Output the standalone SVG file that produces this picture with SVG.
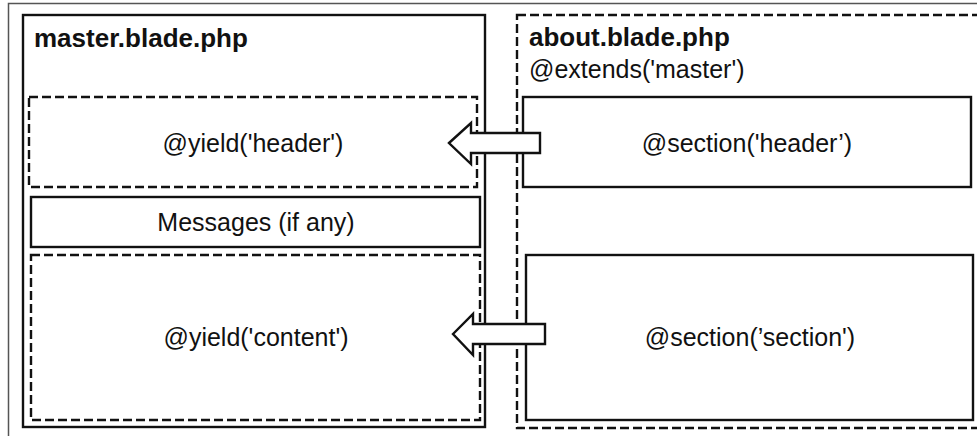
<svg xmlns="http://www.w3.org/2000/svg" width="977" height="436" viewBox="0 0 977 436">
<style>
.solid{fill:#fff;stroke:#111;stroke-width:2.4}
.dash{fill:none;stroke:#111;stroke-width:2.4;stroke-dasharray:9 4}
.frame{fill:none;stroke:#555;stroke-width:1.5}
.arrow{fill:#fff;stroke:#111;stroke-width:2.4;stroke-linejoin:miter}
.t{font-family:"Liberation Sans",Arial,sans-serif;font-size:25px;fill:#111}
.b{font-weight:bold;font-size:26px}
.c{text-anchor:middle}
</style>
<rect width="977" height="436" fill="#fff"/>
<path class="frame" d="M8.5,436 V3.5 H977"/>
<g id="master">
<rect class="solid" x="23" y="15" width="462" height="412"/>
<text class="t b" x="34" y="47">master.blade.php</text>
</g>
<g id="yield-header">
<rect class="dash" x="29" y="97" width="448" height="90"/>
<text class="t c" x="253" y="152">@yield('header')</text>
</g>
<g id="messages">
<rect class="solid" x="31" y="197" width="449" height="50"/>
<text class="t c" x="256" y="231">Messages (if any)</text>
</g>
<g id="yield-content">
<rect class="dash" x="31" y="255" width="449" height="165"/>
<text class="t c" x="256" y="346">@yield('content')</text>
</g>
<g id="about">
<rect class="dash" x="517" y="15" width="480" height="413"/>
<text class="t b" x="529" y="46">about.blade.php</text>
<text class="t" x="529" y="78">@extends('master')</text>
</g>
<g id="section-header">
<rect class="solid" x="523" y="97" width="448" height="90"/>
<text class="t c" x="747" y="152">@section('header’)</text>
</g>
<g id="section-section">
<rect class="solid" x="526" y="255" width="447" height="165"/>
<text class="t c" x="750" y="346">@section(’section')</text>
</g>
<g id="connectors">
<polygon class="arrow" points="449,143 471,123 471,133 540,133 540,153 471,153 471,164"/>
<polygon class="arrow" points="453,334 473,314 473,324 545,324 545,344 473,344 473,355"/>
</g>
</svg>
